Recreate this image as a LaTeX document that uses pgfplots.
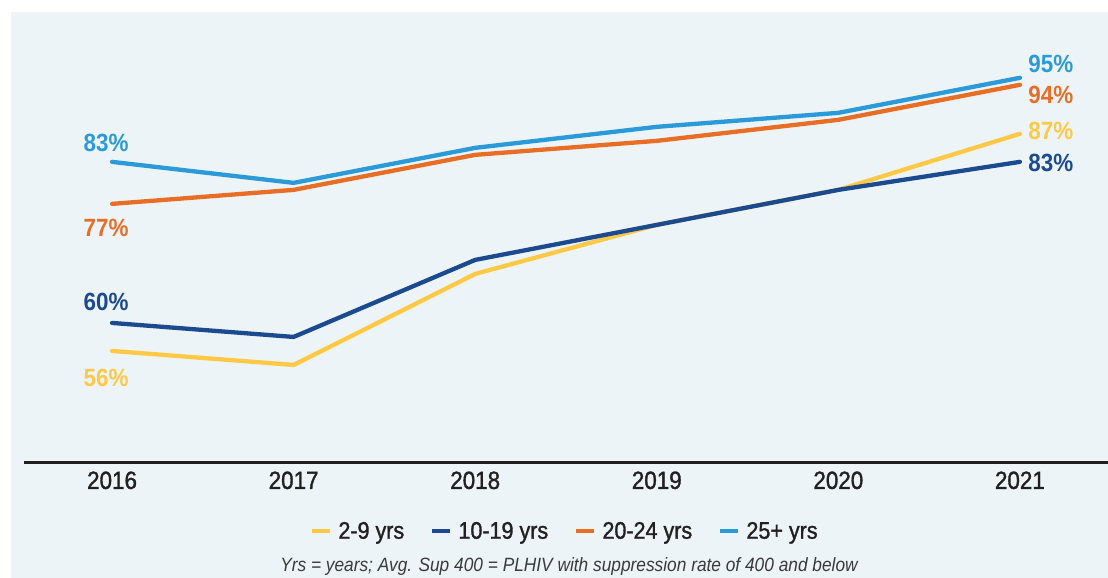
\documentclass[border=0pt]{standalone}
\usepackage{pgfplots}
\pgfplotsset{compat=1.18}
\usepackage{fontspec}
\setmainfont[FakeStretch=0.9]{Liberation Sans}
\newfontfamily\semib[FakeStretch=0.9, FakeBold=1.3]{Liberation Sans}

\definecolor{bg}{HTML}{ECF4F7}
\definecolor{axisc}{HTML}{231F20}
\definecolor{footc}{HTML}{3A3A3A}
\definecolor{cyel}{HTML}{FFC845}
\definecolor{cdblue}{HTML}{1B4A8F}
\definecolor{corange}{HTML}{E86E25}
\definecolor{clblue}{HTML}{2A9AD8}

\begin{document}
\begin{tikzpicture}
\useasboundingbox (0,0) rectangle (1108bp,578bp);
\fill[bg] (11bp,0) rectangle (1108bp,566bp);
\begin{axis}[
    at={(24bp,115bp)}, anchor=south west,
    scale only axis, width=1084bp, height=451bp,
    xmin=2015.515, xmax=2021.485,
    ymin=40, ymax=104.4,
    axis x line=bottom, axis y line=none,
    axis line style={line width=3bp, color=axisc, -},
    xtick={2016,2017,2018,2019,2020,2021},
    xticklabels={2016,2017,2018,2019,2020,2021},
    major tick length=0pt,
    xticklabel style={font=\semib\fontsize{25}{28}\selectfont, text=axisc, yshift=-5bp},
    every axis plot/.append style={line width=4.3bp, line cap=round, line join=round},
    legend columns=4,
    legend style={at={(0.499,-0.151)}, anchor=center, draw=none, fill=none,
      font=\semib\fontsize{24}{27}\selectfont, text=axisc,
      /tikz/every even column/.append style={column sep=24bp}},
    legend image code/.code={\draw[#1, line cap=butt] (0bp,0bp) -- (18bp,0bp); \path (22bp,0bp);},
    clip=false,
]
\addplot[color=cyel] coordinates {(2016,56) (2017,54) (2018,67) (2019,74) (2020,79) (2021,87)};
\addplot[color=cdblue] coordinates {(2016,60) (2017,58) (2018,69) (2019,74) (2020,79) (2021,83)};
\addplot[color=corange] coordinates {(2016,77) (2017,79) (2018,84) (2019,86) (2020,89) (2021,94)};
\addplot[color=clblue] coordinates {(2016,83) (2017,80) (2018,85) (2019,88) (2020,90) (2021,95)};
\legend{2-9 yrs, 10-19 yrs, 20-24 yrs, 25+ yrs}

\begin{scope}[every node/.style={font=\bfseries\fontsize{25}{27}\selectfont}]
\node[text=clblue]  at (axis cs:2016,83) [xshift=-6bp, yshift=19bp] {83\%};
\node[text=corange] at (axis cs:2016,77) [xshift=-6bp, yshift=-24bp] {77\%};
\node[text=cdblue]  at (axis cs:2016,60) [xshift=-6bp, yshift=21bp] {60\%};
\node[text=cyel]    at (axis cs:2016,56) [xshift=-6bp, yshift=-27bp] {56\%};
\node[text=clblue, anchor=west]  at (axis cs:2021,95) [xshift=5bp, yshift=14bp] {95\%};
\node[text=corange, anchor=west] at (axis cs:2021,94) [xshift=5bp, yshift=-10bp] {94\%};
\node[text=cyel, anchor=west]    at (axis cs:2021,87) [xshift=5bp, yshift=3bp] {87\%};
\node[text=cdblue, anchor=west]  at (axis cs:2021,83) [xshift=5bp, yshift=-1bp] {83\%};
\end{scope}
\end{axis}
\node[font=\itshape\fontsize{19.3}{22}\selectfont, text=footc] at (569bp,11bp)
  {Yrs = years; Avg. Sup 400 = PLHIV with suppression rate of 400 and below};
\end{tikzpicture}
\end{document}
